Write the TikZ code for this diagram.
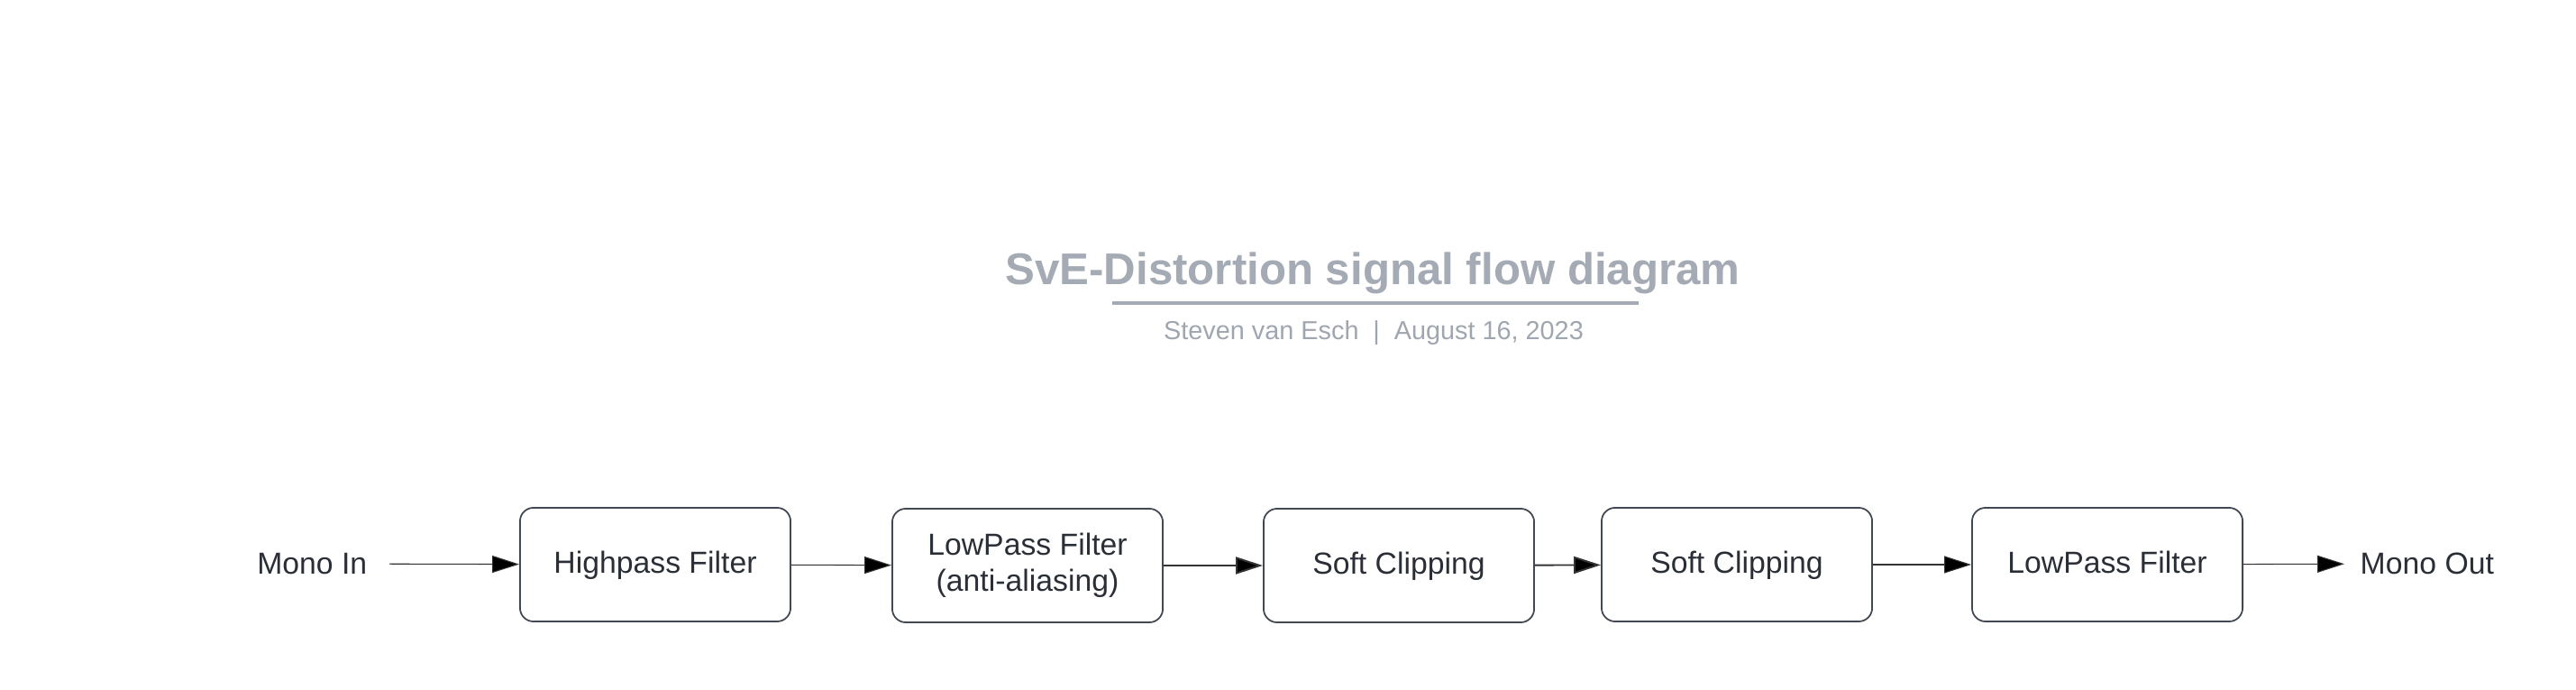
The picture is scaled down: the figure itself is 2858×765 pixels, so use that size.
\documentclass[tikz,border=0pt]{standalone}
\usepackage{fontspec}
\setmainfont{Liberation Sans}
\usetikzlibrary{arrows.meta}
\definecolor{titlegray}{RGB}{165,171,180}
\definecolor{subgray}{RGB}{160,166,175}
\definecolor{textdark}{RGB}{42,46,54}
\definecolor{boxline}{RGB}{66,72,82}
\definecolor{arrowdark}{RGB}{51,51,51}
\begin{document}
\begin{tikzpicture}[x=0.01cm,y=-0.01cm,
  block/.style={shape=rectangle,rounded corners=0.15cm,draw=boxline,line width=0.5pt,
    minimum width=3cm,minimum height=1.26cm,text=textdark,align=center,
    text height=0.73em,text depth=0.21em,font=\fontsize{9.6}{11.4}\selectfont},
  port/.style={text=textdark,inner sep=0pt,font=\fontsize{9.6}{11.4}\selectfont},
  flow/.style={-{Triangle[length=0.3cm,width=0.19cm]},draw=arrowdark,line width=0.3pt}]
\useasboundingbox (0,0) rectangle (2858,765);
\node[anchor=base,text=titlegray,font=\fontsize{14}{16}\selectfont\bfseries] (T) at (1523,316) {SvE-Distortion signal flow diagram};
\draw[titlegray,line width=1pt] (1234,336) -- (1818,336);
\node[anchor=base,text=subgray,font=\fontsize{8.2}{10}\selectfont] (S) at (1524,377) {Steven van Esch\hspace{0.55em}|\hspace{0.55em}August 16, 2023};
\node[port,anchor=east] (In) at (408,625) {Mono In};
\node[block] (HP) at (727,626) {Highpass Filter};
\node[block,text height=,text depth=] (LPA) at (1140,627) {LowPass Filter\\(anti-aliasing)};
\node[block] (SCA) at (1552,627) {Soft Clipping};
\node[block] (SCB) at (1927,626) {Soft Clipping};
\node[block] (LPB) at (2338,626) {LowPass Filter};
\node[port,anchor=west] (Out) at (2618,625) {Mono Out};
\path [flow,shorten <=0.24cm] (In) edge (HP);
\path [flow] (HP) edge (LPA);
\path [flow,line width=0.55pt] (LPA) edge (SCA);
\path [flow,line width=0.55pt] (SCA) edge (SCB);
\path [flow] (SCB) edge (LPB);
\path [flow,shorten >=0.17cm] (LPB) edge (Out);
\end{tikzpicture}
\end{document}
